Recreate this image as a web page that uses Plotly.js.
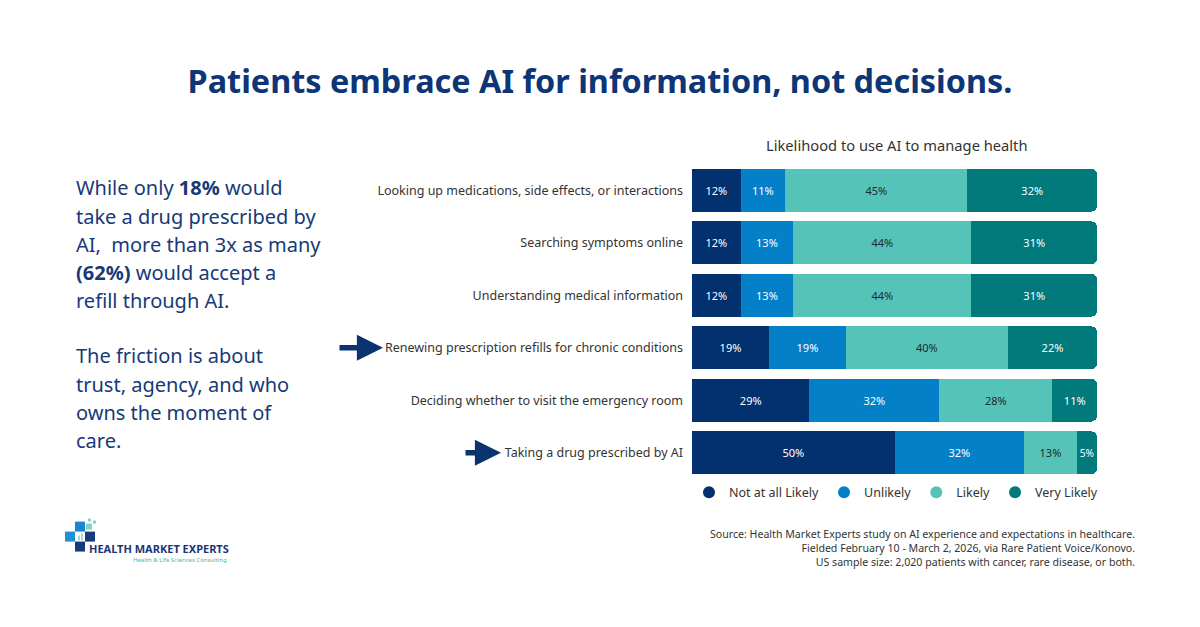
<!DOCTYPE html>
<html><head><meta charset="utf-8">
<script src="https://cdn.plot.ly/plotly-3.0.1.min.js"></script>
<style>html,body{margin:0;padding:0;background:#fff}#chart{width:1200px;height:627px}</style>
</head><body><div id="chart"></div>
<script>
const categories = [
  "Looking up medications, side effects, or interactions",
  "Searching symptoms online",
  "Understanding medical information",
  "Renewing prescription refills for chronic conditions",
  "Deciding whether to visit the emergency room",
  "Taking a drug prescribed by AI"
];
const seriesNames = ["Not at all Likely", "Unlikely", "Likely", "Very Likely"];
const notAtAll   = [12, 12, 12, 19, 29, 50];
const unlikely   = [11, 13, 13, 19, 32, 32];
const likely     = [45, 44, 44, 40, 28, 13];
const veryLikely = [32, 31, 31, 22, 11, 5];
const highlighted = ["Renewing prescription refills for chronic conditions", "Taking a drug prescribed by AI"];
const sourceLines = [
  "Source: Health Market Experts study on AI experience and expectations in healthcare.",
  "Fielded February 10 - March 2, 2026, via Rare Patient Voice/Konovo.",
  "US sample size: 2,020 patients with cancer, rare disease, or both."
];

const colors = ["#03306f", "#0480c9", "#55c3b8", "#02797b"];
const textColors = ["#ffffff", "#ffffff", "#1d2b36", "#ffffff"];
const values = [notAtAll, unlikely, likely, veryLikely];

const traces = [];
values.forEach((v, i) => {
  traces.push({
    type: "bar", orientation: "h", x: v, y: categories, name: seriesNames[i],
    marker: {color: colors[i], line: {width: 0}},
    texttemplate: "%{x}%", textposition: "inside", insidetextanchor: "middle",
    textfont: {family: "Noto Sans", size: 11, color: textColors[i]},
    constraintext: "none", textangle: 0,
    showlegend: false, hoverinfo: "skip"
  });
});
seriesNames.forEach((n, i) => {
  traces.push({
    type: "scatter", mode: "markers", x: [null], y: [null], name: n,
    marker: {color: colors[i], size: 12, symbol: "circle"},
    showlegend: true, hoverinfo: "skip"
  });
});

const L = 692, R = 1097, T = 163.7, B = 479.3;
const pw = R - L, ph = B - T;
const px = x => (x - L) / pw;
const py = y => (B - y) / ph;

const annotations = [];
const navy = "#163a78";
const leftLines1 = [
  "While only <b>18%</b> would",
  "take a drug prescribed by",
  "AI,  more than 3x as many",
  "<b>(62%)</b> would accept a",
  "refill through AI."
];
const leftLines2 = [
  "The friction is about",
  "trust, agency, and who",
  "owns the moment of",
  "care."
];
leftLines1.forEach((t, i) => annotations.push({
  xref: "paper", yref: "paper", x: px(74), y: py(187.5 + i * 28.3), xanchor: "left", yanchor: "middle",
  text: t, showarrow: false, font: {family: "Noto Sans", size: 20, color: navy}
}));
leftLines2.forEach((t, i) => annotations.push({
  xref: "paper", yref: "paper", x: px(74), y: py(356 + i * 28.3), xanchor: "left", yanchor: "middle",
  text: t, showarrow: false, font: {family: "Noto Sans", size: 20, color: navy}
}));
annotations.push({
  xref: "paper", yref: "paper", x: px(897), y: py(145), xanchor: "center", yanchor: "middle",
  text: "Likelihood to use AI to manage health", showarrow: false,
  font: {family: "Noto Sans", size: 14.7, color: "#333333"}
});
const arrowTips = {"Renewing prescription refills for chronic conditions": [383, 45], "Taking a drug prescribed by AI": [501, 37]};
highlighted.forEach(c => {
  annotations.push({
    xref: "paper", yref: "y", x: px(arrowTips[c][0]), y: c, ax: -arrowTips[c][1], ay: 0,
    text: "", showarrow: true, arrowhead: 2, arrowsize: 0.95, arrowwidth: 5.5, arrowcolor: "#0b3370"
  });
});
annotations.push({
  xref: "paper", yref: "paper", x: px(1137), y: py(548), xanchor: "right", yanchor: "middle",
  align: "right", text: sourceLines.join("<br>"), showarrow: false,
  font: {family: "Noto Sans", size: 10.6, color: "#333333"}
});
annotations.push({
  xref: "paper", yref: "paper", x: px(87), y: py(549), xanchor: "left", yanchor: "middle",
  text: "<b>HEALTH MARKET EXPERTS</b>", showarrow: false,
  font: {family: "Noto Sans", size: 11, color: "#1b3575"}
});
annotations.push({
  xref: "paper", yref: "paper", x: px(229), y: py(560), xanchor: "right", yanchor: "middle",
  text: "Health &amp; Life Sciences Consulting", showarrow: false,
  font: {family: "Noto Sans", size: 6, color: "#3fb8b0"}
});

const shapes = [];
const sq = (x0, y0, x1, y1, c) => shapes.push({type: "rect", xref: "paper", yref: "paper",
  x0: px(x0), x1: px(x1), y0: py(y1), y1: py(y0), fillcolor: c, line: {width: 0}});
sq(75, 522, 85, 532, "#1b86cc");
sq(86, 524, 92, 530, "#7fd3cb");
sq(88, 519, 91, 522, "#7fd3cb");
sq(93, 521, 96, 524, "#7fd3cb");
sq(65, 532, 75, 542, "#1f8fd6");
sq(78, 536, 80, 541, "#9fdcd6");
sq(81, 534, 83, 541, "#9fdcd6");
sq(85, 532, 95, 542, "#173a7a");
sq(75, 542, 85, 552, "#173a7a");

const layout = {
  width: 1200, height: 627,
  paper_bgcolor: "#ffffff", plot_bgcolor: "#ffffff",
  margin: {l: L, r: 1200 - R, t: T, b: 627 - B, pad: 0, autoexpand: false},
  title: {text: "<b>Patients embrace AI for information, not decisions.</b>", x: 0.5, xanchor: "center",
    y: 1 - 82 / 627, yanchor: "middle", yref: "container",
    font: {family: "Noto Sans", size: 32.4, color: "#0e3576"}},
  barmode: "stack", bargap: 0.18, barcornerradius: 6,
  xaxis: {range: [0, 100], visible: false, fixedrange: true},
  yaxis: {autorange: "reversed", showgrid: false, zeroline: false, showline: false, ticks: "",
    ticklabelstandoff: 8,
    tickfont: {family: "Noto Sans", size: 12.5, color: "#333333"}},
  showlegend: true,
  legend: {orientation: "h", traceorder: "normal",
    x: px(689), xanchor: "left", y: py(493), yanchor: "middle",
    font: {family: "Noto Sans", size: 12.5, color: "#333333"},
    bgcolor: "rgba(0,0,0,0)"},
  annotations: annotations, shapes: shapes,
  hovermode: false
};
Plotly.newPlot("chart", traces, layout, {displayModeBar: false, staticPlot: true});
</script></body></html>
